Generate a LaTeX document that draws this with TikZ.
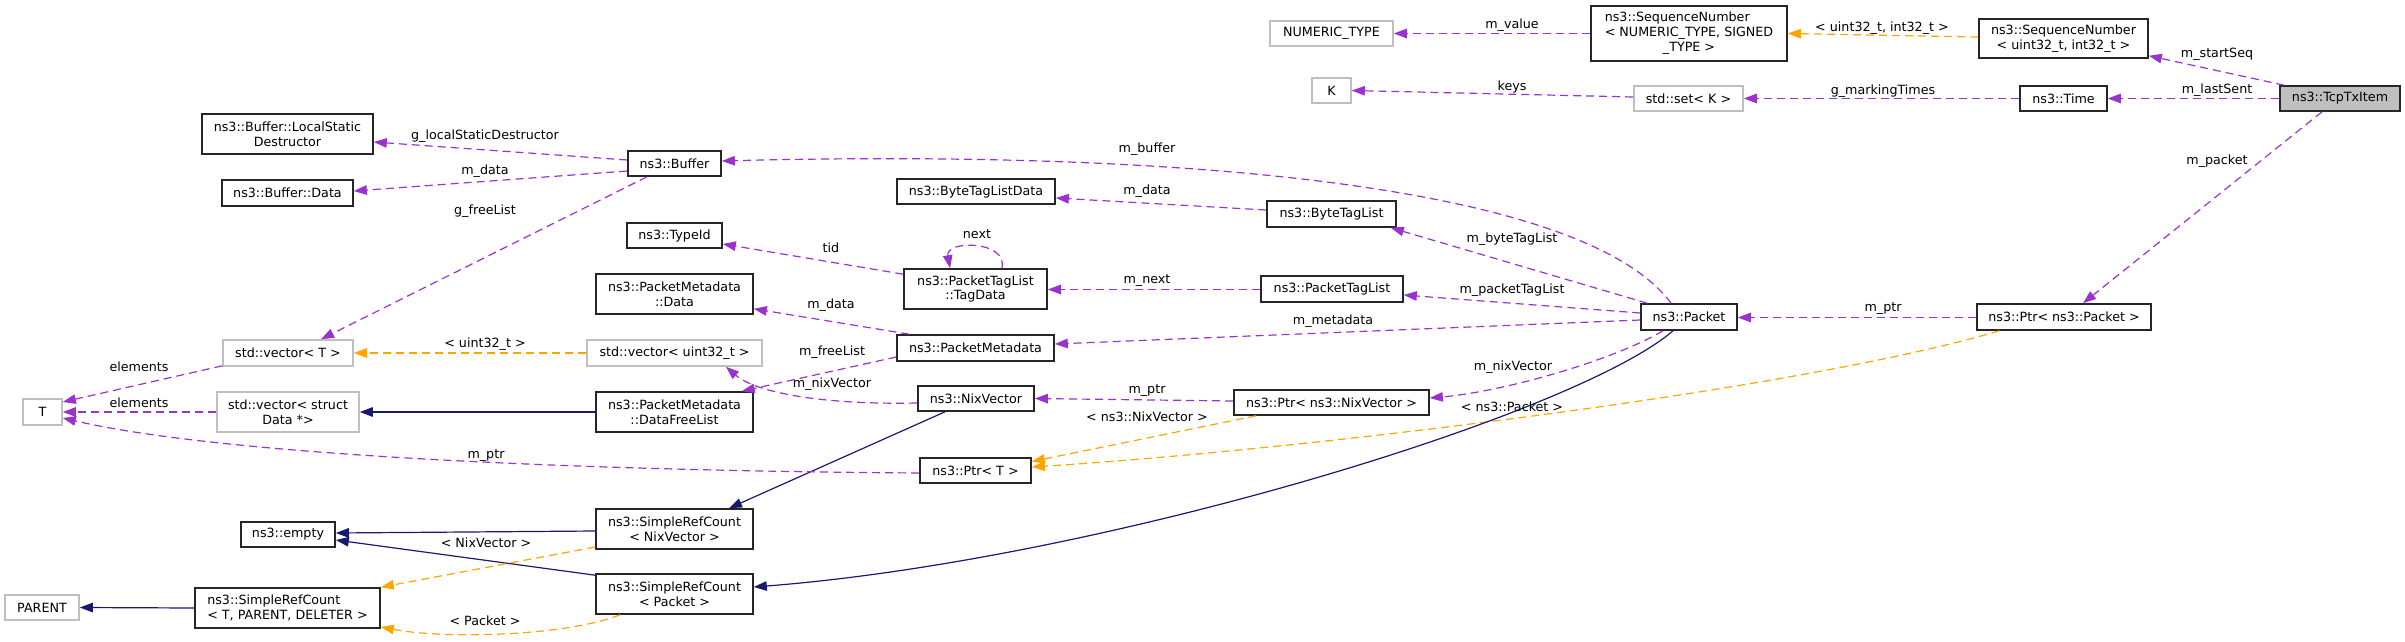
\documentclass[tikz,border=0pt]{standalone}
\usepackage{fontspec}
\setmainfont{DejaVu Sans}
\usetikzlibrary{arrows.meta}
\definecolor{purp}{HTML}{9A32CD}
\definecolor{orng}{HTML}{FFA500}
\definecolor{mblue}{HTML}{191970}
\definecolor{gsev}{HTML}{BFBFBF}
\newcommand{\nf}{\fontsize{12.7}{14.7}\selectfont}
\newcommand{\bx}[7]{\node[#1, minimum width={(#4-#2)*1pt}, minimum height={(#5-#3)*1pt}] (#6) at ({(#2+#4)/2},{(#3+#5)/2}) {#7};}
\tikzset{
  cls/.style={draw=black!85, line width=1.6pt, fill=white, inner sep=0pt, align=center, font=\nf},
  ext/.style={cls, draw=gsev},
  cur/.style={cls, fill=gsev},
  tip/.style={-{Triangle[length=13pt,width=9.5pt]}},
  usage/.style={draw=purp, line width=1.2pt, dash pattern=on 8pt off 5pt, tip},
  tmpl/.style={draw=orng, line width=1.2pt, dash pattern=on 8pt off 5pt, tip},
  inh/.style={draw=mblue, line width=1.2pt, tip},
  lbl/.style={font=\nf, inner sep=0pt, text=black}
}
\begin{document}
\begin{tikzpicture}[x=1pt,y=-1pt]
\useasboundingbox (0,0) rectangle (2405,642);
% nodes
\bx{cur}{2280}{86}{2400}{111}{tcp}{ns3::TcpTxItem}
\bx{cls}{1979}{19}{2148}{58}{seqU}{ns3::SequenceNumber\\< uint32\_t, int32\_t >}
\bx{cls}{2020}{86}{2107}{111}{time}{ns3::Time}
\bx{cls}{1591}{6}{1787}{61}{seqN}{\begin{tabular}{@{}l@{}}ns3::SequenceNumber\\< NUMERIC\_TYPE, SIGNED\\\multicolumn{1}{@{}c@{}}{\_TYPE >}\end{tabular}}
\bx{ext}{1270}{21}{1393}{46}{numt}{NUMERIC\_TYPE}
\bx{ext}{1312}{78}{1351}{103}{K}{K}
\bx{ext}{1634}{86}{1743}{111}{setK}{std::set< K >}
\bx{cls}{1641}{304}{1737}{330}{packet}{ns3::Packet}
\bx{cls}{1977}{304}{2151}{330}{ptrP}{ns3::Ptr< ns3::Packet >}
\bx{cls}{628}{151}{721}{176}{buffer}{ns3::Buffer}
\bx{cls}{897}{179}{1055}{204}{btld}{ns3::ByteTagListData}
\bx{cls}{1267}{201}{1396}{227}{btl}{ns3::ByteTagList}
\bx{cls}{627}{223}{722}{248}{typeid}{ns3::TypeId}
\bx{cls}{904}{269}{1047}{309}{tagdata}{ns3::PacketTagList\\::TagData}
\bx{cls}{1261}{276}{1403}{302}{ptl}{ns3::PacketTagList}
\bx{cls}{596}{274}{753}{314}{pmdata}{ns3::PacketMetadata\\::Data}
\bx{cls}{897}{335}{1054}{361}{pm}{ns3::PacketMetadata}
\bx{ext}{587}{340}{762}{366}{vecu}{std::vector< uint32\_t >}
\bx{cls}{596}{392}{753}{432}{dfl}{ns3::PacketMetadata\\::DataFreeList}
\bx{cls}{918}{386}{1034}{411}{nix}{ns3::NixVector}
\bx{cls}{1234}{390}{1429}{415}{ptrN}{ns3::Ptr< ns3::NixVector >}
\bx{cls}{920}{458}{1031}{483}{ptrT}{ns3::Ptr< T >}
\bx{cls}{596}{509}{753}{549}{srcN}{ns3::SimpleRefCount\\< NixVector >}
\bx{cls}{596}{574}{753}{614}{srcP}{ns3::SimpleRefCount\\< Packet >}
\bx{cls}{202}{114}{373}{154}{lsd}{ns3::Buffer::LocalStatic\\Destructor}
\bx{cls}{222}{180}{353}{206}{bdata}{ns3::Buffer::Data}
\bx{ext}{223}{340}{353}{366}{vecT}{std::vector< T >}
\bx{ext}{23}{399}{62}{425}{T}{T}
\bx{ext}{217}{392}{359}{432}{vecS}{std::vector< struct\\Data *>}
\bx{cls}{241}{522}{335}{547}{empty}{ns3::empty}
\bx{ext}{5}{595}{79}{620}{parent}{PARENT}
\node[cls, align=left, minimum width=185pt, minimum height=40pt] (srcT) at (287.5,608) {ns3::SimpleRefCount\\< T, PARENT, DELETER >};
% edges
\draw[usage] ([xshift=5pt]tcp.north west) -- ([yshift=3pt]seqU.south east);
\draw[usage] (tcp.west) -- (time.east);
\draw[usage] ([xshift=-18pt]tcp.south) -- ([xshift=19pt]ptrP.north);
\draw[tmpl] ([yshift=1.5pt]seqU.west) -- (seqN.east);
\draw[usage] (seqN.west) -- (numt.east);
\draw[usage] (time.west) -- (setK.east);
\draw[usage] ([yshift=1.5pt]setK.west) -- (K.east);
\draw[usage] ([yshift=-0.5pt]ptrP.west) -- ([yshift=-0.5pt]packet.east);
\draw[tmpl] ([xshift=23pt]ptrP.south west) .. controls (1800,390) and (1300,450) .. ([yshift=3.5pt]ptrT.east);
\draw[usage] ([xshift=-18pt]packet.north) .. controls (1580,180) and (1150,150) .. ([yshift=2.5pt]buffer.east);
\draw[usage] ([xshift=7pt]packet.north west) -- ([xshift=-6pt]btl.south east);
\draw[usage] ([yshift=4pt]packet.west) -- ([yshift=-6pt]ptl.east);
\draw[usage] ([yshift=-3pt]packet.west) -- ([yshift=4pt]pm.east);
\draw[usage] ([xshift=-26pt]packet.south) .. controls (1610,362) and (1500,392) .. ([yshift=4.5pt]ptrN.east);
\draw[inh] ([xshift=-16pt]packet.south) .. controls (1575,415) and (1100,560) .. ([yshift=7pt]srcP.east);
\draw[usage] ([yshift=1.5pt]ptrN.west) -- (nix.east);
\draw[tmpl] ([xshift=23pt]ptrN.south west) -- ([yshift=9pt]ptrT.east);
\draw[usage] ([yshift=-4.5pt]nix.west) .. controls (820,405) and (755,392) .. ([xshift=51.5pt]vecu.south);
\draw[inh] ([xshift=-31pt]nix.south) -- ([xshift=54.5pt]srcN.north);
\draw[usage] ([xshift=13pt]pm.north west) -- ([yshift=6pt]pmdata.south east);
\draw[usage] ([yshift=-9pt]pm.west) -- ([xshift=-12pt]dfl.north east);
\draw[tmpl] (vecu.west) -- (vecT.east);
\draw[inh] (dfl.west) -- (vecS.east);
\draw[usage] ([yshift=1pt]vecT.south west) -- ([yshift=10pt]T.east);
\draw[usage] (vecS.west) -- (T.east);
\draw[usage] ([yshift=-2.5pt]ptrT.west) .. controls (500,470) and (200,450) .. ([yshift=-6pt]T.east);
\draw[usage] ([yshift=3.5pt]buffer.west) -- ([yshift=-8pt]lsd.east);
\draw[usage] ([yshift=-7.5pt]buffer.west) -- ([yshift=2pt]bdata.east);
\draw[usage] ([xshift=-27.5pt]buffer.south) -- ([xshift=33pt]vecT.north);
\draw[usage] ([yshift=4pt]btl.west) -- ([yshift=-6.5pt]btld.east);
\draw[usage] ([yshift=-6pt]tagdata.north west) -- ([yshift=-8.5pt]typeid.east);
\draw[usage] ([xshift=26.5pt]tagdata.north) .. controls (1008,240) and (945,240) .. ([xshift=-25.5pt]tagdata.north);
\draw[usage] ([yshift=-0.5pt]ptl.west) -- ([yshift=-0.5pt]tagdata.east);
\draw[inh] ([yshift=-2pt]srcN.west) -- ([yshift=1.5pt]empty.east);
\draw[inh] ([yshift=-2pt]srcP.north west) -- ([yshift=-5.5pt]empty.east);
\draw[tmpl] ([yshift=-18pt]srcN.west) -- (srcT.north east);
\draw[tmpl] ([xshift=-54.5pt]srcP.south) .. controls (570,635) and (450,640) .. ([yshift=-19pt]srcT.east);
\draw[inh] (srcT.west) -- (parent.east);
% labels
\node[lbl] (l1) at (2217,54) {m\_startSeq};
\node[lbl] (l2) at (2217,90) {m\_lastSent};
\node[lbl] (l3) at (2217,161) {m\_packet};
\node[lbl] (l4) at (1882,28) {< uint32\_t, int32\_t >};
\node[lbl] (l5) at (1512,25) {m\_value};
\node[lbl] (l6) at (1883,91) {g\_markingTimes};
\node[lbl] (l7) at (1512,87) {keys};
\node[lbl] (l8) at (1883,309) {m\_ptr};
\node[lbl] (l9) at (1512,407) {< ns3::Packet >};
\node[lbl] (l10) at (1147,149) {m\_buffer};
\node[lbl] (l11) at (1512,239) {m\_byteTagList};
\node[lbl] (l12) at (1512,290) {m\_packetTagList};
\node[lbl] (l13) at (1333,321) {m\_metadata};
\node[lbl] (l14) at (1513,367) {m\_nixVector};
\node[lbl] (l15) at (1147,391) {m\_ptr};
\node[lbl] (l16) at (1147,417) {< ns3::NixVector >};
\node[lbl] (l17) at (832,384) {m\_nixVector};
\node[lbl] (l18) at (831,305) {m\_data};
\node[lbl] (l19) at (832,352) {m\_freeList};
\node[lbl] (l20) at (485,344) {< uint32\_t >};
\node[lbl] (l21) at (139,367) {elements};
\node[lbl] (l22) at (139,403) {elements};
\node[lbl] (l23) at (486,456) {m\_ptr};
\node[lbl] (l24) at (485,136) {g\_localStaticDestructor};
\node[lbl] (l25) at (485,171) {m\_data};
\node[lbl] (l26) at (485,211) {g\_freeList};
\node[lbl] (l27) at (1147,191) {m\_data};
\node[lbl] (l28) at (831,248) {tid};
\node[lbl] (l29) at (977,234) {next};
\node[lbl] (l30) at (1147,281) {m\_next};
\node[lbl] (l31) at (486,543) {< NixVector >};
\node[lbl] (l32) at (485,621) {< Packet >};
\end{tikzpicture}
\end{document}
